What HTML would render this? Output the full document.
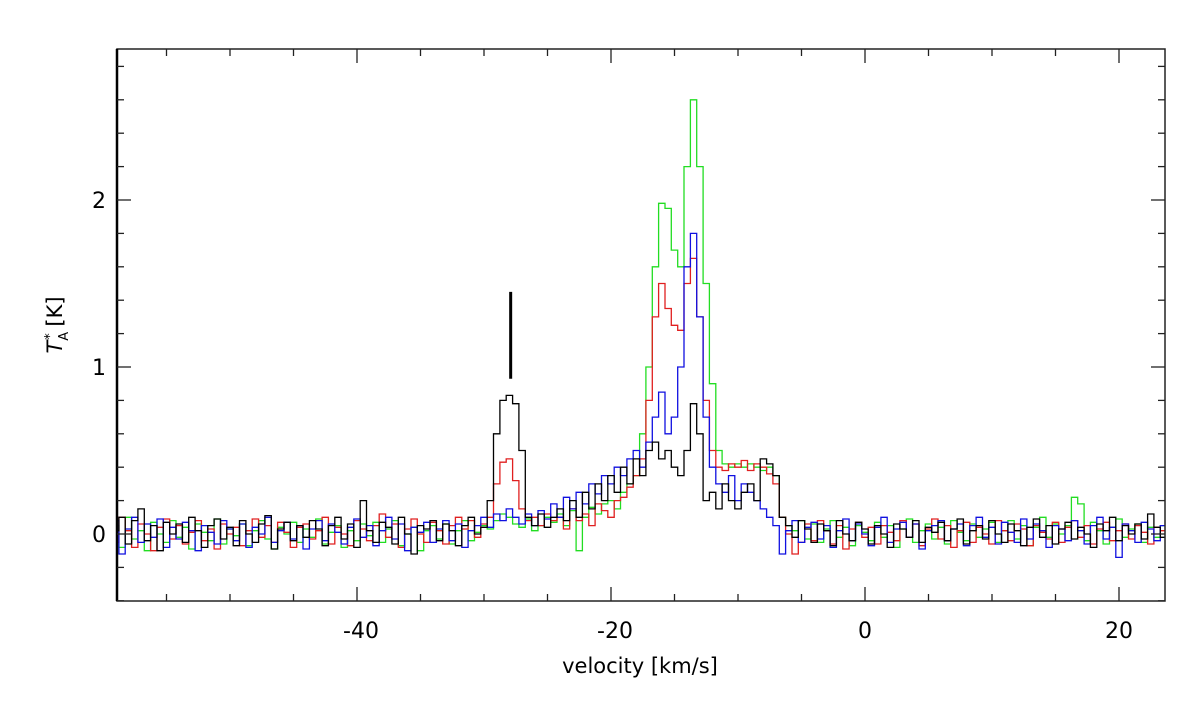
<!DOCTYPE html>
<html><head><meta charset="utf-8"><style>
body{margin:0;background:#fff}
svg text{font-family:"DejaVu Sans","Liberation Sans",sans-serif;fill:#000}
</style></head><body>
<svg id="chart" width="1200" height="699" xmlns="http://www.w3.org/2000/svg">
<g id="series"></g>
<g id="axes"></g>
<line id="marker" stroke="#000" stroke-width="3"/>
<text x="640" y="673" font-size="21" text-anchor="middle">velocity [km/s]</text>
<text transform="translate(62,325) rotate(-90)" font-size="21" text-anchor="middle"><tspan font-style="italic">T</tspan><tspan font-size="13" dy="6">A</tspan><tspan font-size="13" dy="-14" dx="-8">*</tspan><tspan dy="8"> [K]</tspan></text>
</svg>
<script>
const v0 = -59, dv = 0.5;
const xTicks = [-40, -20, 0, 20];
const yTicks = [0, 1, 2];
const markerV = -27.9, markerY = [0.93, 1.45];
const green = [0.05,-0.08,0.1,-0.03,0.02,-0.1,0.07,0.0,-0.05,0.08,
-0.02,0.04,-0.09,0.06,0.01,-0.04,0.09,-0.06,0.03,-0.01,
0.06,-0.07,0.02,0.08,-0.03,-0.09,0.04,0.0,0.07,-0.05,
0.03,-0.02,0.09,-0.06,0.01,0.05,-0.08,0.02,-0.04,0.06,
-0.01,0.07,-0.05,0.03,0.08,-0.07,0.0,0.04,-0.1,0.02,
0.05,-0.03,0.06,-0.06,0.02,0.08,-0.04,0.01,0.05,0.03,
0.08,0.12,0.1,0.06,0.04,0.09,0.02,0.05,0.1,0.07,
0.12,0.05,0.14,-0.1,0.1,0.16,0.12,0.18,0.2,0.15,
0.25,0.3,0.35,0.6,1.0,1.6,1.98,1.95,1.7,1.6,
2.2,2.6,2.2,1.5,0.9,0.5,0.42,0.4,0.42,0.4,
0.42,0.4,0.38,0.4,0.35,0.1,0.05,0.02,0.08,-0.03,
0.06,-0.05,0.03,0.08,-0.02,0.04,-0.07,0.05,0.01,-0.04,
0.07,-0.02,0.05,-0.08,0.03,0.09,-0.05,0.02,0.06,-0.03,
0.04,-0.06,0.08,0.01,-0.04,0.06,-0.02,0.03,0.07,-0.05,
0.02,0.08,-0.03,0.05,-0.07,0.04,0.1,-0.02,0.06,0.0,
0.05,0.22,0.18,-0.04,0.07,0.02,-0.06,0.04,0.09,-0.02,
0.03,0.06,-0.05,0.04,-0.02,0.05];
const red = [-0.05,0.1,0.02,-0.08,0.06,0.0,-0.1,0.04,0.09,-0.03,
0.05,-0.06,0.01,0.08,-0.04,0.03,-0.09,0.06,0.0,0.04,
-0.07,0.02,0.09,-0.02,0.05,-0.05,0.07,0.01,-0.08,0.04,
0.06,-0.03,0.02,0.1,-0.06,0.04,0.0,-0.07,0.08,0.03,
-0.04,0.05,0.12,-0.02,0.06,-0.08,0.03,0.09,0.0,-0.05,
0.07,0.02,-0.06,0.05,0.1,0.03,0.08,-0.02,0.06,0.1,
0.3,0.43,0.45,0.32,0.15,0.08,0.1,0.05,0.12,0.08,
0.1,0.03,0.15,0.08,0.12,0.05,0.18,0.14,0.1,0.2,
0.22,0.28,0.35,0.45,0.8,1.3,1.5,1.35,1.25,1.22,
1.5,1.65,1.3,0.8,0.5,0.4,0.38,0.42,0.4,0.44,
0.38,0.42,0.4,0.36,0.3,0.1,0.0,-0.12,-0.05,0.06,
-0.04,0.08,0.02,-0.06,0.05,-0.09,0.03,0.07,-0.02,0.04,
-0.06,0.05,0.01,-0.04,0.08,-0.02,0.06,-0.07,0.03,0.09,
-0.03,0.05,-0.08,0.02,0.07,-0.05,0.04,0.0,-0.06,0.08,
0.02,-0.04,0.06,0.03,-0.07,0.05,0.01,-0.03,0.07,-0.05,
0.04,0.08,-0.02,0.05,-0.06,0.03,0.07,-0.04,0.02,0.06,
-0.03,0.05,0.01,-0.06,0.04,0.02];
const blue = [0.08,-0.12,0.03,0.1,-0.05,0.06,-0.02,0.09,-0.08,0.04,
-0.03,0.07,0.02,-0.1,0.05,0.01,-0.06,0.08,0.03,-0.04,
0.06,-0.08,0.04,0.0,0.1,-0.05,0.02,0.07,-0.03,0.05,
-0.09,0.03,0.08,-0.04,0.06,0.01,-0.06,0.04,0.09,-0.02,
0.05,-0.07,0.02,0.1,-0.03,0.06,-0.1,0.04,0.01,0.07,
-0.05,0.03,0.08,-0.04,0.06,-0.08,0.02,0.05,0.1,0.04,
0.12,0.08,0.15,0.1,0.06,0.12,0.05,0.14,0.09,0.18,
0.1,0.22,0.15,0.25,0.18,0.3,0.24,0.35,0.3,0.4,
0.35,0.45,0.5,0.4,0.55,0.7,0.85,0.6,0.7,1.0,
1.6,1.8,1.3,0.7,0.4,0.3,0.25,0.35,0.2,0.3,
0.25,0.2,0.15,0.1,0.05,-0.12,0.02,0.08,-0.05,0.04,
0.07,-0.03,0.05,-0.08,0.02,0.09,-0.04,0.06,0.0,-0.07,
0.04,0.1,-0.05,0.03,0.07,-0.02,0.06,-0.09,0.02,0.05,
0.08,-0.04,0.03,0.06,-0.07,0.05,0.1,-0.02,0.04,-0.06,
0.07,0.01,-0.05,0.09,-0.03,0.06,0.02,-0.08,0.05,0.03,
-0.04,0.08,0.02,-0.06,0.05,0.1,-0.03,0.04,-0.14,0.06,
0.02,-0.05,0.07,0.03,-0.04,0.05];
const black = [0.02,0.1,-0.06,0.08,0.15,-0.04,0.05,-0.1,0.07,0.0,
0.06,-0.05,0.1,0.02,-0.08,0.05,0.09,-0.03,0.04,-0.07,
0.08,0.0,-0.05,0.06,0.11,-0.09,0.03,0.07,-0.04,0.05,
-0.02,0.08,0.03,-0.07,0.05,0.1,-0.03,0.06,-0.08,0.2,
0.02,-0.05,0.07,0.04,-0.06,0.1,0.0,-0.12,0.05,0.03,
0.08,-0.04,0.06,0.02,-0.07,0.05,0.1,0.0,0.04,0.2,
0.6,0.8,0.83,0.78,0.5,0.1,0.05,0.12,0.04,0.1,
0.15,0.08,0.2,0.1,0.25,0.15,0.3,0.2,0.35,0.25,
0.4,0.3,0.45,0.35,0.5,0.55,0.45,0.5,0.4,0.35,
0.5,0.78,0.6,0.2,0.25,0.15,0.3,0.2,0.15,0.25,
0.3,0.2,0.45,0.42,0.35,0.1,0.05,-0.02,0.08,0.03,
-0.05,0.06,0.02,-0.07,0.08,0.0,-0.04,0.07,0.03,-0.06,
0.05,0.0,-0.08,0.06,0.03,-0.02,0.08,-0.05,0.04,0.01,
0.07,-0.04,0.03,0.09,-0.06,0.02,0.05,-0.03,0.08,0.0,
-0.05,0.06,0.02,-0.07,0.04,0.09,-0.02,0.05,-0.06,0.03,
0.07,-0.03,0.04,0.0,-0.08,0.06,0.02,0.1,-0.04,0.05,
0.0,0.06,-0.03,0.12,0.04,-0.02];

const L=117,R=1165,T=49,B=601;
const x = v => 865 + v*12.7;
const y = t => 534 - t*167;
const NS='http://www.w3.org/2000/svg';
function mk(tag, attrs, parent){const e=document.createElementNS(NS,tag);for(const k in attrs)e.setAttribute(k,attrs[k]);parent.appendChild(e);return e;}
const sg=document.getElementById('series');
const clip=mk('clipPath',{id:'cp'},document.getElementById('chart'));
mk('rect',{x:L,y:T,width:R-L,height:B-T},clip);
sg.setAttribute('clip-path','url(#cp)');
const series=[[green,'#22dd22','green'],[red,'#e02020','red'],[blue,'#1010e0','blue'],[black,'#000000','black']];
series.forEach(([d,c,n])=>{
  let p='';
  d.forEach((t,i)=>{const xa=x(v0+dv*i-dv/2),xb=x(v0+dv*i+dv/2);p+=(i?'L':'M')+xa.toFixed(1)+','+y(t).toFixed(1)+'L'+xb.toFixed(1)+','+y(t).toFixed(1);});
  const e=mk('path',{d:p,fill:'none',stroke:c,'stroke-width':1.3},sg);
  
  
});
const ag=document.getElementById('axes');
const fr=mk('rect',{x:L,y:T,width:R-L,height:B-T,fill:'none',stroke:'#222','stroke-width':1.5},ag);


mk('line',{x1:L,y1:T,x2:L,y2:B,stroke:'#000','stroke-width':2.5},ag);
for(let v=-55;v<=23;v+=5){
  const major=xTicks.includes(v), len=major?14:7;
  mk('line',{x1:x(v),y1:B,x2:x(v),y2:B-len,stroke:'#222','stroke-width':1.3},ag);
  mk('line',{x1:x(v),y1:T,x2:x(v),y2:T+len,stroke:'#222','stroke-width':1.3},ag);
}
xTicks.forEach(v=>{
  const t=mk('text',{x:x(v)+(v<0?4:0),y:638,'font-size':22,'text-anchor':'middle'},ag);
  t.textContent=v<0?'-'+Math.abs(v):String(v);
  
  
});
for(let k=-2;k<=14;k++){
  const t=k*0.2, major=(k%5===0), len=major?14:7;
  if(y(t)<T||y(t)>B)continue;
  mk('line',{x1:L,y1:y(t),x2:L+len,y2:y(t),stroke:'#222','stroke-width':1.3},ag);
  mk('line',{x1:R,y1:y(t),x2:R-len,y2:y(t),stroke:'#222','stroke-width':1.3},ag);
}
yTicks.forEach(t=>{
  const e=mk('text',{x:106,y:y(t)+8,'font-size':22,'text-anchor':'end'},ag);
  e.textContent=String(t);
  
  
});
const m=document.getElementById('marker');
m.setAttribute('x1',x(markerV));m.setAttribute('x2',x(markerV));
m.setAttribute('y1',y(markerY[0]));m.setAttribute('y2',y(markerY[1]));
</script>
</body></html>
